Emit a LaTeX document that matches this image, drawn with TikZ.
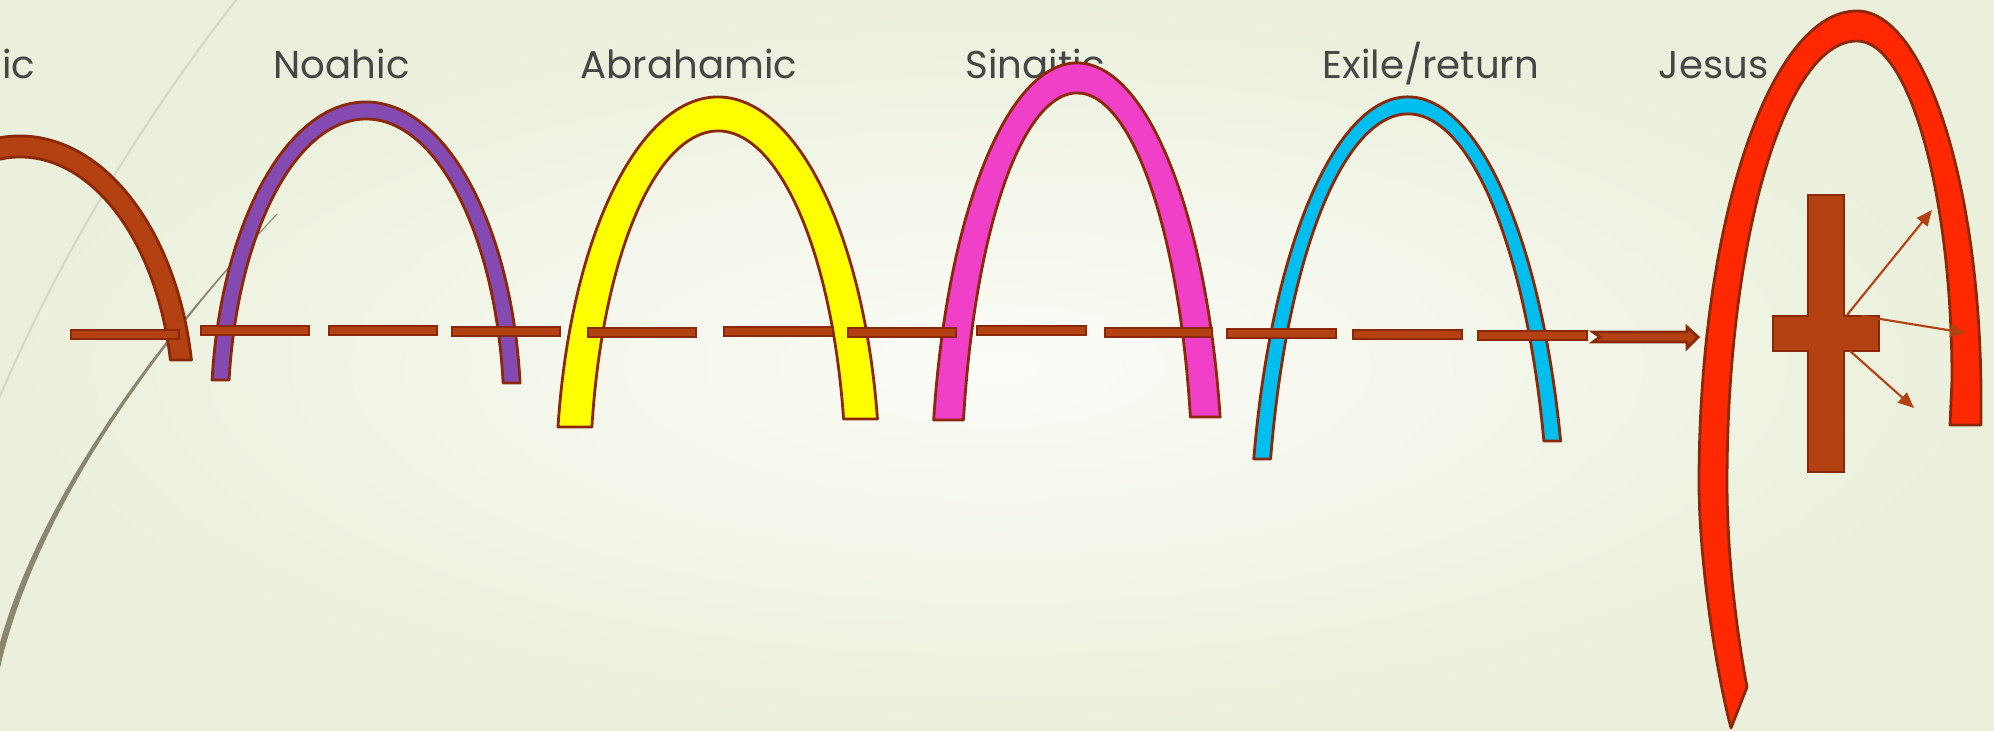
\documentclass[tikz,border=0pt]{standalone}
\usepackage{fontspec}
\setmainfont{Poppins}
\usetikzlibrary{arrows.meta,calc}
\definecolor{bgCentre}{RGB}{251,252,247}
\definecolor{bgEdge}{RGB}{235,240,220}
\definecolor{wispLight}{RGB}{214,216,196}
\definecolor{wispDark}{RGB}{140,134,112}
\definecolor{labelGray}{RGB}{70,70,70}
\definecolor{rimColor}{RGB}{139,40,8}
\definecolor{barColor}{RGB}{180,65,18}
\definecolor{noahColor}{RGB}{133,73,178}
\definecolor{abrahamColor}{RGB}{255,255,0}
\definecolor{sinaiColor}{RGB}{240,64,200}
\definecolor{exileColor}{RGB}{0,190,240}
\definecolor{jesusColor}{RGB}{255,40,0}

% arch band: fill, cx, cy, x radius, y radius, thickness, left foot y, right foot y
\newcommand{\covenantarch}[8]{%
  \pgfmathsetmacro\archDl{asin((#3-#7)/#5)}
  \pgfmathsetmacro\archDr{asin((#3-#8)/#5)}
  \pgfmathsetmacro\archAi{#4-#6}
  \pgfmathsetmacro\archBi{#5-#6}
  \pgfmathsetmacro\archDli{asin((#3-#7)/\archBi)}
  \pgfmathsetmacro\archDri{asin((#3-#8)/\archBi)}
  \filldraw[archband, fill=#1] (#2,#3) ++(180+\archDl:#4 and #5)
    arc[start angle=180+\archDl, end angle=360-\archDr, x radius=#4, y radius=#5]
    -- ($(#2,#3)+(360-\archDri:\archAi\space and \archBi)$)
    arc[start angle=360-\archDri, end angle=180+\archDli, x radius=\archAi, y radius=\archBi]
    -- cycle;
}

\begin{document}
\begin{tikzpicture}[x=0.01cm, y=-0.01cm,
    archband/.style={draw=rimColor, line width=0.8pt, line join=round},
    dashbar/.style={draw=rimColor, fill=barColor, line width=0.8pt},
    ray/.style={draw=barColor, line width=0.6pt, -{Triangle[length=4.5pt,width=3.8pt]}},
    lbl/.style={text=labelGray, font=\fontsize{11}{13}\selectfont, inner sep=0pt}]
  \useasboundingbox (0,0) rectangle (1994,731);
  \clip (0,0) rectangle (1994,731);
  % Background
  \shade[inner color=bgCentre, outer color=bgEdge] (0,0) rectangle (1994,731);
  \draw[wispLight, line width=0.6pt] (240,-5) .. controls (150,110) and (60,250) .. (-10,420);
  \fill[wispDark] (277,214) .. controls (157,343) and (25,520) .. (-5,690)
    -- (-11,690) .. controls (19,520) and (155,342) .. (277,214) -- cycle;
  \draw[wispDark, line width=0.3pt] (277,214) .. controls (157,343) and (25,520) .. (-5,690);
  % Covenant names
  \node[lbl, anchor=base east] (adamic) at (36,79) {Adamic};
  \node[lbl, anchor=base west] (noahic) at (273,79) {Noahic};
  \node[lbl, anchor=base west] (abrahamic) at (580,79) {Abrahamic};
  \node[lbl, anchor=base west] (sinaitic) at (965,79) {Sinaitic};
  \node[lbl, anchor=base west] (exile) at (1322,79) {Exile/return};
  \node[lbl, anchor=base west] (jesus) at (1658,79) {Jesus};
  % Arches
  \covenantarch{barColor}{20}{406}{174}{270}{21}{360}{360}
  \covenantarch{noahColor}{366}{417}{155}{315}{17}{380}{383}
  \covenantarch{abrahamColor}{718}{488}{162}{391}{34}{427}{419}
  \covenantarch{sinaiColor}{1077}{504}{146}{441}{30}{420}{417}
  \covenantarch{exileColor}{1408}{575}{159}{478}{17}{459}{441}
  % Jesus arch
  \filldraw[archband, fill=jesusColor] (1731,728)
    .. controls (1716,672) and (1699,560) .. (1699,483)
    .. controls (1699,222) and (1770,11) .. (1857,11)
    .. controls (1925,11) and (1981,185) .. (1981,400)
    -- (1981,425) -- (1950,425) -- (1952,380)
    .. controls (1952,193) and (1909,41) .. (1857,41)
    .. controls (1785,41) and (1727,239) .. (1727,483)
    .. controls (1727,560) and (1738,640) .. (1747,687) -- cycle;
  % Dashed timeline
  \foreach \xa/\xb/\yt in {71/179/330, 201/309/326, 329/437/326, 452/560/327,
      588/696/328, 724/833/327, 848/956/328, 977/1086/326, 1105/1212/328,
      1227/1336/329, 1353/1462/330, 1478/1587/331}
    \filldraw[dashbar] (\xa,\yt) rectangle (\xb,\yt+9);
  \filldraw[dashbar] (1593,332) -- (1687,332) -- (1687,327) -- (1698,337)
    -- (1687,348) -- (1687,342) -- (1593,342) -- (1600,337) -- cycle;
  % Cross
  \filldraw[dashbar] (1808,195) -- (1844,195) -- (1844,316) -- (1879,316)
    -- (1879,351) -- (1844,351) -- (1844,472) -- (1808,472) -- (1808,351)
    -- (1773,351) -- (1773,316) -- (1808,316) -- cycle;
  \coordinate (rayUpS) at (1847,315);
  \coordinate (rayUpE) at (1932,210);
  \coordinate (rayMidS) at (1862,316);
  \coordinate (rayMidE) at (1966,333);
  \coordinate (rayLowS) at (1850,351);
  \coordinate (rayLowE) at (1914,408);
  \draw[ray] (rayUpS) -- (rayUpE);
  \draw[ray] (rayMidS) -- (rayMidE);
  \draw[ray] (rayLowS) -- (rayLowE);
\end{tikzpicture}
\end{document}
